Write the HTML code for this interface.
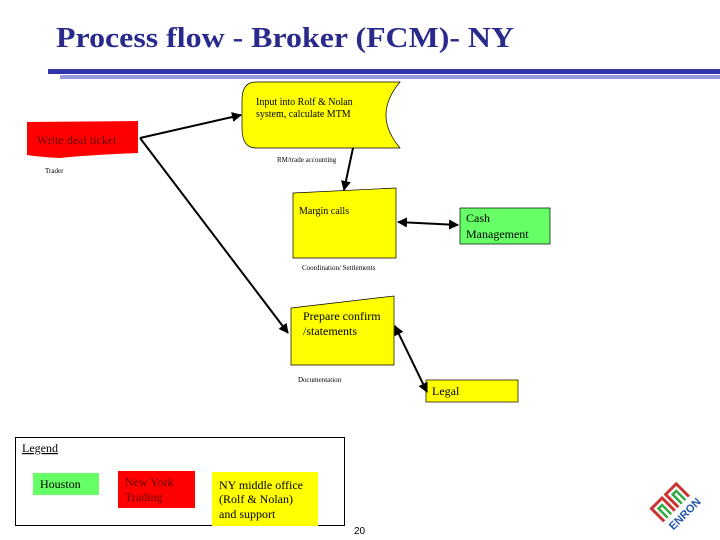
<!DOCTYPE html>
<html><head><meta charset="utf-8"><style>
html,body{margin:0;padding:0;background:#fff;}
svg{display:block;font-family:"Liberation Serif",serif;}
</style></head><body>
<svg width="720" height="540" viewBox="0 0 720 540" xmlns="http://www.w3.org/2000/svg">
<defs>
<marker id="ah" viewBox="0 0 10 10" refX="9" refY="5" markerWidth="5" markerHeight="5" orient="auto-start-reverse"><path d="M0,0 L10,5 L0,10 z" fill="#000"/></marker>
</defs>
<text x="56" y="47" font-size="28" font-weight="bold" fill="#2a2a8c" textLength="458" lengthAdjust="spacingAndGlyphs">Process flow - Broker (FCM)- NY</text>
<rect x="48" y="69" width="672" height="5" fill="#3333aa"/>
<rect x="60" y="75" width="660" height="4" fill="#9999dd"/>

<path d="M27,122 L138,121 L138,153 Q90,155 60,158 Q40,157 27,155 Z" fill="#ff0000"/>
<text x="37" y="144" font-size="12" fill="#660000">Write deal ticket</text>
<text x="45" y="173" font-size="7">Trader</text>

<path d="M256,82 L400,82 Q372,115 400,148 L256,148 Q242,148 242,128 L242,100 Q242,82 256,82 Z" fill="#ffff00" stroke="#000" stroke-width="0.7"/>
<text x="256" y="105" font-size="10">Input into Rolf &amp; Nolan</text>
<text x="256" y="117" font-size="10">system, calculate MTM</text>
<line x1="140" y1="138" x2="241" y2="115" stroke="#000" stroke-width="2" marker-end="url(#ah)"/>
<text x="277" y="162" font-size="7">RM/trade accounting</text>
<line x1="353" y1="148" x2="344" y2="190" stroke="#000" stroke-width="2" marker-end="url(#ah)"/>

<path d="M293,193 L396,188 L396,258 L293,258 Z" fill="#ffff00" stroke="#000" stroke-width="0.7"/>
<text x="299" y="214" font-size="10">Margin calls</text>
<rect x="460" y="208" width="90" height="36" fill="#66ff66" stroke="#000" stroke-width="0.7"/>
<text x="466" y="222" font-size="12">Cash</text>
<text x="466" y="238" font-size="12">Management</text>
<line x1="398" y1="222" x2="458" y2="225" stroke="#000" stroke-width="2" marker-start="url(#ah)" marker-end="url(#ah)"/>
<text x="302" y="270" font-size="7">Coordination/ Settlements</text>

<line x1="140" y1="138" x2="288" y2="333" stroke="#000" stroke-width="2" marker-end="url(#ah)"/>
<path d="M291,308 L394,296 L394,365 L291,365 Z" fill="#ffff00" stroke="#000" stroke-width="0.7"/>
<text x="303" y="320" font-size="12">Prepare confirm</text>
<text x="303" y="335" font-size="12">/statements</text>
<text x="298" y="382" font-size="7">Documentation</text>
<rect x="426" y="380" width="92" height="22" fill="#ffff00" stroke="#000" stroke-width="0.7"/>
<text x="432" y="395" font-size="12">Legal</text>
<line x1="395" y1="326" x2="427" y2="392" stroke="#000" stroke-width="2" marker-start="url(#ah)" marker-end="url(#ah)"/>

<rect x="15.5" y="437.5" width="329" height="88" fill="#fff" stroke="#000" stroke-width="1"/>
<text x="22" y="452" font-size="12" text-decoration="underline">Legend</text>
<rect x="33" y="473" width="66" height="22" fill="#66ff66"/>
<text x="40" y="488" font-size="12">Houston</text>
<rect x="118" y="471" width="77" height="37" fill="#ff0000"/>
<text x="125" y="486" font-size="12" fill="#660000">New York</text>
<text x="125" y="501" font-size="12" fill="#660000">Trading</text>
<rect x="212" y="472" width="106" height="54" fill="#ffff00"/>
<text x="219" y="489" font-size="12">NY middle office</text>
<text x="219" y="503" font-size="12">(Rolf &amp; Nolan)</text>
<text x="219" y="518" font-size="12">and support</text>
<text x="354" y="534" font-size="10" font-family="Liberation Sans, sans-serif">20</text>

<g transform="translate(684,510) rotate(-45)">
<path d="M-22,-6 L-22,-24 L-7,-24 L-7,-6 M-2,-6 L-2,-24 L13,-24 L13,-6" fill="none" stroke="#cc3333" stroke-width="3"/>
<path d="M-17,-6 L-17,-19 L-12,-19 L-12,-6 M3,-6 L3,-19 L8,-19 L8,-6" fill="none" stroke="#33aa44" stroke-width="2.5"/>
<text x="-22" y="7" font-size="11" font-weight="bold" fill="#2255aa" font-family="Liberation Sans, sans-serif">ENRON</text>
</g>
</svg>
</body></html>
